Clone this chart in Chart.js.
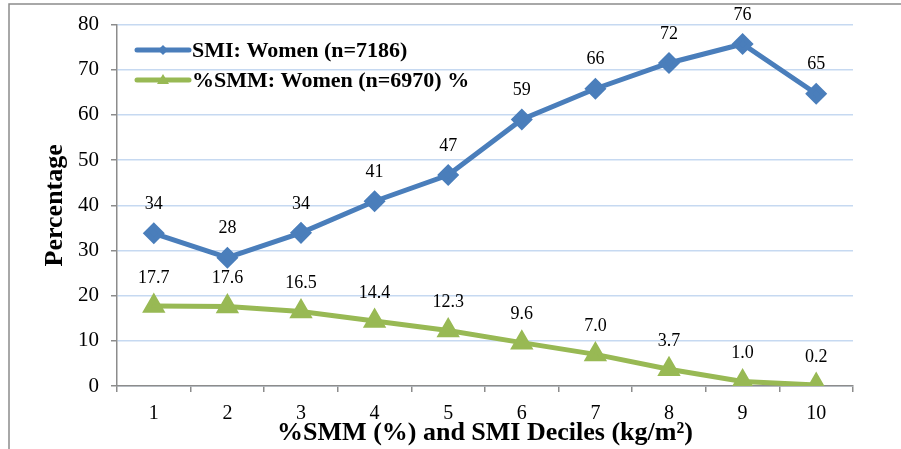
<!DOCTYPE html>
<html>
<head>
<meta charset="utf-8">
<script src="https://cdn.jsdelivr.net/npm/chart.js@4.4.1/dist/chart.umd.min.js"></script>
<style>
  html, body { margin: 0; padding: 0; background: #fff; }
  #wrap { width: 901px; height: 449px; position: relative; }
</style>
</head>
<body>
<div id="wrap"><canvas id="chart" width="901" height="449"></canvas></div>
<script>
const deciles = ['1', '2', '3', '4', '5', '6', '7', '8', '9', '10'];
const smiWomen = [33.8, 28.4, 33.9, 40.9, 46.7, 59.0, 65.8, 71.5, 75.7, 64.7];
const smmWomen = [17.7, 17.6, 16.5, 14.4, 12.3, 9.6, 7.0, 3.7, 1.0, 0.2];
const smiLabels = ['34', '28', '34', '41', '47', '59', '66', '72', '76', '65'];
const smmLabels = ['17.7', '17.6', '16.5', '14.4', '12.3', '9.6', '7.0', '3.7', '1.0', '0.2'];
const yTicks = [0, 10, 20, 30, 40, 50, 60, 70, 80];

const BLUE = '#4a7ebb';
const GREEN = '#98b954';
const SERIF = '"Liberation Serif", "Times New Roman", serif';

// outer frame like the pasted Excel picture
const framePlugin = {
    id: 'frame',
    beforeDraw(chart) {
        const ctx = chart.ctx;
        ctx.save();
        ctx.strokeStyle = '#8c8c8c';
        ctx.lineWidth = 1.5;
        ctx.beginPath();
        ctx.moveTo(9, 449);
        ctx.lineTo(9, 4);
        ctx.lineTo(901, 4);
        ctx.stroke();
        ctx.restore();
    }
};

// value labels above each point
const valueLabels = {
    id: 'valueLabels',
    afterDatasetsDraw(chart) {
        const ctx = chart.ctx;
        ctx.save();
        ctx.font = '18px ' + SERIF;
        ctx.fillStyle = '#000';
        ctx.textAlign = 'center';
        ctx.textBaseline = 'middle';
        chart.data.datasets.forEach((ds, i) => {
            const meta = chart.getDatasetMeta(i);
            meta.data.forEach((pt, j) => {
                ctx.fillText(ds.labelsText[j], pt.x, pt.y - ds.labelGap);
            });
        });
        ctx.restore();
    }
};

// legend sitting inside the plot area, top left
const innerLegend = {
    id: 'innerLegend',
    afterDraw(chart) {
        const ctx = chart.ctx;
        ctx.save();
        ctx.font = 'bold 22px ' + SERIF;
        ctx.textBaseline = 'middle';
        chart.data.datasets.forEach((ds, i) => {
            const y = 50 + i * 30;
            ctx.strokeStyle = ds.borderColor;
            ctx.lineWidth = 5;
            ctx.lineCap = 'round';
            ctx.beginPath();
            ctx.moveTo(137, y);
            ctx.lineTo(189, y);
            ctx.stroke();
            ctx.fillStyle = ds.borderColor;
            ctx.beginPath();
            if (ds.pointStyle === 'rectRot') {
                ctx.moveTo(163, y - 5);
                ctx.lineTo(168, y);
                ctx.lineTo(163, y + 5);
                ctx.lineTo(158, y);
            } else {
                ctx.moveTo(163, y - 6);
                ctx.lineTo(169, y + 4);
                ctx.lineTo(157, y + 4);
            }
            ctx.closePath();
            ctx.fill();
            ctx.fillStyle = '#000';
            ctx.fillText(ds.label, 192, y + 1);
        });
        ctx.restore();
    }
};

new Chart(document.getElementById('chart').getContext('2d'), {
    type: 'line',
    data: {
        labels: deciles,
        datasets: [{
            label: 'SMI: Women (n=7186)',
            data: smiWomen,
            labelsText: smiLabels,
            labelGap: 29,
            borderColor: BLUE,
            backgroundColor: BLUE,
            borderWidth: 5,
            pointStyle: 'rectRot',
            pointRadius: 7.5,
            pointHoverRadius: 7.5,
            tension: 0
        }, {
            label: '%SMM: Women (n=6970) %',
            data: smmWomen,
            labelsText: smmLabels,
            labelGap: 28,
            borderColor: GREEN,
            backgroundColor: GREEN,
            borderWidth: 5,
            pointStyle: 'triangle',
            pointRadius: 8.5,
            pointHoverRadius: 8.5,
            tension: 0
        }]
    },
    options: {
        responsive: false,
        animation: false,
        layout: { padding: { left: 40, right: 48, top: 22, bottom: 0 } },
        plugins: {
            legend: { display: false },
            tooltip: { enabled: false }
        },
        scales: {
            x: {
                offset: true,
                afterFit(scale) { scale.height = 63; },
                grid: {
                    offset: true,
                    drawOnChartArea: false,
                    drawTicks: true,
                    tickLength: 6,
                    color: '#8c8c8c',
                    lineWidth: 1.5
                },
                border: { color: '#8c8c8c', width: 1.5 },
                ticks: {
                    padding: 10,
                    color: '#000',
                    font: { family: SERIF, size: 20 }
                },
                title: {
                    display: true,
                    text: '%SMM (%) and SMI Deciles (kg/m\u00b2)',
                    color: '#000',
                    padding: 0,
                    font: { family: SERIF, size: 26, weight: 'bold' }
                }
            },
            y: {
                min: 0,
                max: 80,
                afterFit(scale) { scale.width = 77; },
                afterBuildTicks(scale) { scale.ticks = yTicks.map(v => ({ value: v })); },
                grid: {
                    color: '#c6d9f1',
                    lineWidth: 1.5,
                    drawTicks: true,
                    tickLength: 6,
                    tickColor: '#8c8c8c'
                },
                border: { color: '#8c8c8c', width: 1.5 },
                ticks: {
                    padding: 12,
                    color: '#000',
                    font: { family: SERIF, size: 21 }
                },
                title: {
                    display: true,
                    text: 'Percentage',
                    color: '#000',
                    padding: 0,
                    font: { family: SERIF, size: 26, weight: 'bold' }
                }
            }
        }
    },
    plugins: [framePlugin, valueLabels, innerLegend]
});
</script>
</body>
</html>
